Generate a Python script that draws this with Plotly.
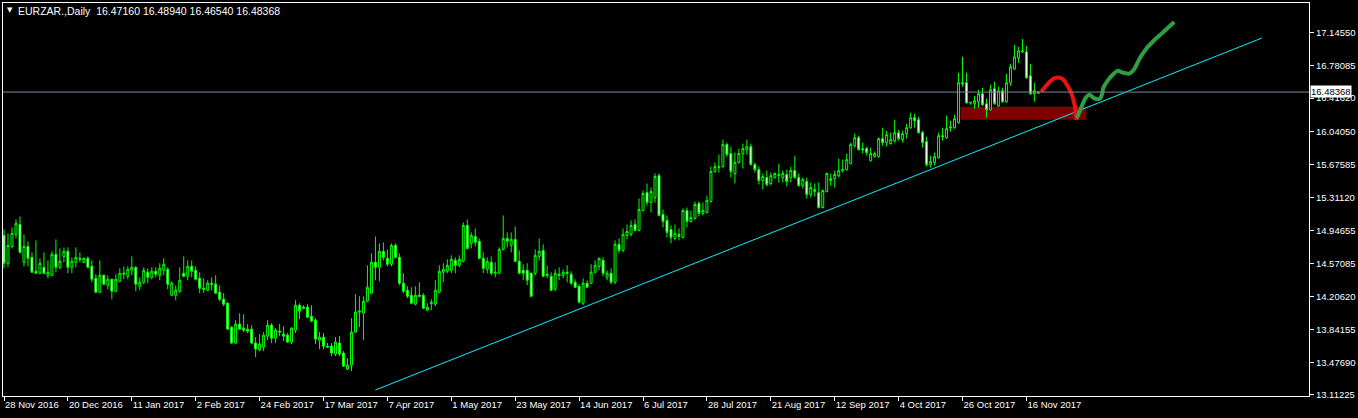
import plotly.graph_objects as go

# ---------------- data ----------------
symbol_title = "EURZAR.,Daily\u00a0\u00a016.47160 16.48940 16.46540 16.48368"

date_labels = ["28 Nov 2016", "20 Dec 2016", "11 Jan 2017", "2 Feb 2017", "24 Feb 2017",
               "17 Mar 2017", "7 Apr 2017", "1 May 2017", "23 May 2017", "14 Jun 2017",
               "6 Jul 2017", "28 Jul 2017", "21 Aug 2017", "12 Sep 2017", "4 Oct 2017",
               "26 Oct 2017", "16 Nov 2017"]
date_label_bars = [0, 16, 32, 48, 64, 80, 96, 112, 128, 144, 160, 176, 192, 208, 224, 240, 256]

price_ticks = [17.14550, 16.78085, 16.41620, 16.04050, 15.67585, 15.31120,
               14.94655, 14.57085, 14.20620, 13.84155, 13.47690, 13.11225]

opens = [14.888, 14.578, 14.766, 14.900, 15.011, 14.589, 14.766, 14.644, 14.489, 14.467,
         14.533, 14.444, 14.444, 14.678, 14.533, 14.655, 14.711, 14.533, 14.589, 14.633,
         14.589, 14.633, 14.544, 14.411, 14.256, 14.444, 14.333, 14.400, 14.267, 14.378,
         14.456, 14.433, 14.500, 14.533, 14.322, 14.367, 14.478, 14.422, 14.489, 14.444,
         14.500, 14.511, 14.222, 14.222, 14.267, 14.467, 14.433, 14.544, 14.500, 14.411,
         14.300, 14.278, 14.356, 14.345, 14.256, 14.178, 14.134, 13.867, 13.690, 13.901,
         13.856, 13.845, 13.845, 13.690, 13.612, 13.645, 13.767, 13.889, 13.745, 13.823,
         13.790, 13.778, 13.701, 13.834, 14.111, 14.089, 14.089, 13.989, 13.945, 13.723,
         13.756, 13.656, 13.656, 13.568, 13.690, 13.579, 13.401, 13.445, 13.812, 14.034,
         14.023, 14.156, 14.245, 14.589, 14.533, 14.711, 14.633, 14.567, 14.777, 14.644,
         14.356, 14.278, 14.222, 14.123, 14.222, 14.222, 14.056, 14.145, 14.123, 14.256,
         14.478, 14.489, 14.500, 14.611, 14.555, 14.600, 14.999, 14.800, 14.877, 14.822,
         14.633, 14.511, 14.589, 14.467, 14.467, 14.733, 14.855, 14.777, 14.844, 14.600,
         14.500, 14.500, 14.467, 14.467, 14.655, 14.722, 14.456, 14.433, 14.289, 14.456,
         14.444, 14.478, 14.456, 14.367, 14.322, 14.134, 14.356, 14.356, 14.478, 14.544,
         14.611, 14.422, 14.467, 14.367, 14.789, 14.722, 14.888, 14.900, 15.011, 14.944,
         15.166, 15.366, 15.255, 15.310, 15.554, 15.122, 15.055, 14.955, 14.855, 14.900,
         14.866, 15.166, 15.044, 15.077, 15.244, 15.133, 15.144, 15.266, 15.599, 15.643,
         15.654, 15.899, 15.799, 15.577, 15.699, 15.799, 15.843, 15.876, 15.677, 15.621,
         15.499, 15.532, 15.466, 15.532, 15.554, 15.532, 15.566, 15.532, 15.610, 15.532,
         15.443, 15.488, 15.344, 15.377, 15.366, 15.199, 15.377, 15.499, 15.521, 15.554,
         15.610, 15.621, 15.688, 15.887, 15.976, 15.854, 15.854, 15.721, 15.765, 15.765,
         15.965, 15.921, 15.910, 15.943, 16.032, 15.954, 16.021, 16.087, 16.198, 16.176,
         16.032, 15.932, 15.677, 15.699, 15.754, 15.998, 15.976, 16.098, 16.087, 16.143,
         16.587, 16.587, 16.365, 16.354, 16.376, 16.465, 16.354, 16.287, 16.520, 16.331,
         16.498, 16.376, 16.587, 16.742, 16.864, 16.931, 16.931, 16.664, 16.465, 16.47160]

highs = [14.955, 14.911, 14.977, 15.066, 15.099, 14.900, 14.822, 14.700, 14.833, 14.633,
         14.700, 14.611, 14.711, 14.844, 14.744, 14.755, 14.755, 14.644, 14.755, 14.700,
         14.644, 14.655, 14.611, 14.456, 14.611, 14.456, 14.444, 14.411, 14.456, 14.522,
         14.544, 14.544, 14.655, 14.544, 14.422, 14.533, 14.522, 14.533, 14.533, 14.578,
         14.633, 14.533, 14.378, 14.333, 14.533, 14.655, 14.611, 14.611, 14.544, 14.478,
         14.411, 14.389, 14.422, 14.444, 14.333, 14.245, 14.145, 13.878, 13.945, 14.023,
         14.012, 13.901, 13.889, 13.756, 13.790, 13.812, 13.945, 13.912, 13.856, 13.901,
         13.878, 13.801, 13.867, 14.167, 14.134, 14.111, 14.123, 14.111, 13.967, 13.812,
         13.801, 13.690, 13.690, 13.756, 13.767, 13.601, 13.523, 13.967, 14.234, 14.211,
         14.211, 14.555, 14.689, 14.877, 14.800, 14.811, 14.733, 14.800, 14.800, 14.689,
         14.467, 14.322, 14.311, 14.322, 14.367, 14.245, 14.134, 14.178, 14.389, 14.555,
         14.578, 14.622, 14.666, 14.644, 14.666, 15.033, 15.066, 14.922, 14.966, 14.855,
         14.700, 14.644, 14.655, 14.589, 14.755, 15.110, 14.922, 14.922, 14.988, 14.722,
         14.567, 14.578, 14.478, 14.733, 14.855, 14.789, 14.555, 14.478, 14.511, 14.533,
         14.511, 14.555, 14.489, 14.400, 14.345, 14.411, 14.389, 14.567, 14.611, 14.644,
         14.644, 14.500, 14.522, 14.833, 14.855, 14.966, 15.011, 15.055, 15.066, 15.299,
         15.388, 15.466, 15.421, 15.577, 15.577, 15.177, 15.110, 14.999, 15.011, 14.966,
         15.188, 15.199, 15.166, 15.266, 15.266, 15.255, 15.332, 15.654, 15.699, 15.788,
         15.954, 15.921, 15.876, 15.810, 15.854, 15.910, 15.954, 15.910, 15.699, 15.654,
         15.577, 15.610, 15.588, 15.588, 15.688, 15.610, 15.621, 15.654, 15.776, 15.577,
         15.532, 15.532, 15.477, 15.466, 15.477, 15.399, 15.588, 15.577, 15.610, 15.743,
         15.732, 15.799, 15.921, 16.021, 15.998, 15.921, 15.876, 15.865, 15.821, 15.976,
         16.087, 16.054, 16.032, 16.176, 16.065, 16.054, 16.132, 16.254, 16.243, 16.209,
         16.054, 15.987, 15.776, 15.810, 16.032, 16.087, 16.220, 16.165, 16.232, 16.698,
         16.875, 16.698, 16.376, 16.442, 16.509, 16.531, 16.409, 16.565, 16.598, 16.542,
         16.531, 16.687, 16.798, 17.009, 16.986, 17.075, 16.997, 16.798, 16.587, 16.48940]

lows = [14.522, 14.533, 14.744, 14.855, 14.689, 14.544, 14.544, 14.478, 14.467, 14.456,
        14.456, 14.411, 14.433, 14.478, 14.511, 14.589, 14.467, 14.467, 14.533, 14.589,
        14.578, 14.522, 14.367, 14.245, 14.245, 14.333, 14.289, 14.178, 14.256, 14.367,
        14.400, 14.400, 14.444, 14.267, 14.278, 14.345, 14.356, 14.400, 14.422, 14.389,
        14.444, 14.289, 14.211, 14.167, 14.245, 14.422, 14.389, 14.422, 14.389, 14.245,
        14.245, 14.267, 14.278, 14.234, 14.156, 14.100, 13.834, 13.679, 13.679, 13.834,
        13.812, 13.801, 13.679, 13.534, 13.601, 13.601, 13.723, 13.690, 13.690, 13.767,
        13.712, 13.690, 13.679, 13.801, 13.956, 14.067, 13.967, 13.923, 13.679, 13.623,
        13.623, 13.634, 13.545, 13.545, 13.545, 13.423, 13.390, 13.379, 13.801, 13.867,
        13.723, 14.145, 14.234, 14.389, 14.378, 14.611, 14.544, 14.544, 14.633, 14.333,
        14.245, 14.189, 14.123, 14.111, 14.200, 14.067, 14.045, 14.056, 14.100, 14.245,
        14.367, 14.467, 14.467, 14.467, 14.533, 14.589, 14.733, 14.744, 14.766, 14.622,
        14.467, 14.467, 14.444, 14.422, 14.456, 14.722, 14.755, 14.700, 14.589, 14.456,
        14.389, 14.333, 14.200, 14.444, 14.611, 14.422, 14.411, 14.267, 14.267, 14.389,
        14.411, 14.367, 14.333, 14.300, 14.134, 14.111, 14.300, 14.345, 14.467, 14.500,
        14.433, 14.389, 14.345, 14.345, 14.689, 14.700, 14.844, 14.877, 14.933, 14.933,
        15.155, 15.221, 15.144, 15.255, 15.099, 14.977, 14.866, 14.800, 14.833, 14.833,
        14.855, 14.977, 15.033, 15.066, 15.099, 15.110, 15.133, 15.255, 15.588, 15.588,
        15.643, 15.765, 15.532, 15.466, 15.688, 15.632, 15.788, 15.665, 15.588, 15.455,
        15.399, 15.432, 15.443, 15.521, 15.477, 15.477, 15.432, 15.477, 15.521, 15.432,
        15.410, 15.299, 15.310, 15.321, 15.188, 15.188, 15.366, 15.443, 15.421, 15.532,
        15.588, 15.610, 15.677, 15.865, 15.832, 15.799, 15.776, 15.710, 15.754, 15.754,
        15.887, 15.876, 15.899, 15.921, 15.943, 15.921, 15.965, 16.076, 16.087, 16.021,
        15.865, 15.654, 15.643, 15.665, 15.743, 15.943, 15.965, 16.043, 16.076, 16.132,
        16.542, 16.354, 16.343, 16.298, 16.309, 16.331, 16.198, 16.276, 16.343, 16.320,
        16.365, 16.365, 16.553, 16.731, 16.809, 16.920, 16.631, 16.454, 16.376, 16.46540]

closes = [14.578, 14.777, 14.911, 15.022, 14.700, 14.766, 14.633, 14.478, 14.467, 14.578,
          14.467, 14.478, 14.678, 14.533, 14.600, 14.711, 14.533, 14.600, 14.644, 14.622,
          14.633, 14.533, 14.400, 14.256, 14.444, 14.345, 14.400, 14.267, 14.400, 14.467,
          14.467, 14.511, 14.533, 14.345, 14.367, 14.500, 14.422, 14.489, 14.456, 14.522,
          14.567, 14.345, 14.356, 14.278, 14.389, 14.433, 14.544, 14.489, 14.400, 14.300,
          14.289, 14.356, 14.345, 14.245, 14.178, 14.123, 13.845, 13.690, 13.901, 13.845,
          13.834, 13.823, 13.690, 13.623, 13.679, 13.778, 13.889, 13.745, 13.834, 13.812,
          13.767, 13.701, 13.856, 14.111, 14.045, 14.078, 13.978, 13.934, 13.734, 13.756,
          13.656, 13.645, 13.579, 13.701, 13.568, 13.434, 13.445, 13.812, 14.034, 14.045,
          14.156, 14.311, 14.589, 14.533, 14.711, 14.644, 14.567, 14.777, 14.644, 14.356,
          14.267, 14.211, 14.134, 14.222, 14.211, 14.078, 14.089, 14.134, 14.278, 14.489,
          14.511, 14.555, 14.622, 14.555, 14.622, 14.999, 14.744, 14.888, 14.811, 14.633,
          14.522, 14.600, 14.467, 14.478, 14.733, 14.855, 14.822, 14.844, 14.600, 14.467,
          14.467, 14.389, 14.211, 14.666, 14.711, 14.433, 14.444, 14.278, 14.467, 14.444,
          14.478, 14.467, 14.356, 14.311, 14.145, 14.356, 14.311, 14.478, 14.555, 14.633,
          14.467, 14.467, 14.367, 14.789, 14.722, 14.900, 14.933, 14.999, 14.944, 15.177,
          15.355, 15.255, 15.377, 15.543, 15.110, 15.044, 14.922, 14.866, 14.911, 14.877,
          15.166, 15.044, 15.088, 15.233, 15.133, 15.166, 15.277, 15.599, 15.654, 15.654,
          15.899, 15.788, 15.599, 15.699, 15.799, 15.854, 15.876, 15.677, 15.621, 15.499,
          15.543, 15.455, 15.554, 15.577, 15.566, 15.577, 15.488, 15.610, 15.532, 15.443,
          15.510, 15.344, 15.421, 15.399, 15.199, 15.388, 15.577, 15.521, 15.566, 15.610,
          15.621, 15.732, 15.899, 15.976, 15.843, 15.843, 15.810, 15.799, 15.799, 15.965,
          15.921, 16.010, 15.954, 16.032, 15.965, 16.021, 16.087, 16.198, 16.165, 16.032,
          15.921, 15.677, 15.710, 15.765, 15.998, 15.987, 16.076, 16.087, 16.187, 16.587,
          16.576, 16.365, 16.365, 16.387, 16.465, 16.343, 16.287, 16.509, 16.354, 16.498,
          16.376, 16.587, 16.764, 16.875, 16.942, 16.942, 16.642, 16.465, 16.498, 16.48368]

bid_price = 16.48368

# trend line (bar index, price)
trend_x = [93, 315]
trend_y = [13.168, 17.086]

# support zone (bar index range, price range)
zone_x = [239.5, 271.0]
zone_y = [16.176, 16.320]

# hand-drawn scenario strokes (bar index, price)
red_x = [259.7, 261.3, 262.6, 263.8, 265.1, 266.3, 267.2, 267.6, 268.2, 268.4, 268.6]
red_y = [16.487, 16.572, 16.628, 16.646, 16.628, 16.553, 16.479, 16.424, 16.313, 16.240, 16.173]

green_x = [268.6, 269.25, 269.9, 270.9, 271.75, 273.0, 274.25, 274.8, 275.3, 276.3,
           277.6, 278.8, 280.1, 281.75, 283.0, 284.25, 285.9, 288.0, 290.1, 293.0]
green_y = [16.195, 16.257, 16.331, 16.424, 16.454, 16.413, 16.406, 16.442, 16.535, 16.609,
           16.676, 16.720, 16.701, 16.690, 16.739, 16.850, 16.961, 17.061, 17.145, 17.264]

# ---------------- figure ----------------
bars = list(range(len(opens)))
FONT = "Liberation Sans, Arial, sans-serif"

fig = go.Figure()

fig.add_trace(go.Candlestick(
    x=bars, open=opens, high=highs, low=lows, close=closes,
    increasing=dict(line=dict(color="#00FF00", width=1), fillcolor="#000000"),
    decreasing=dict(line=dict(color="#00FF00", width=1), fillcolor="#FFFFFF"),
    whiskerwidth=0, hoverinfo="none", showlegend=False))

fig.add_trace(go.Scatter(x=trend_x, y=trend_y, mode="lines",
                         line=dict(color="#00F0FF", width=1),
                         hoverinfo="skip", showlegend=False))

fig.add_trace(go.Scatter(x=red_x, y=red_y, mode="lines",
                         line=dict(color="#EE1111", width=4, shape="spline"),
                         hoverinfo="skip", showlegend=False))

fig.add_trace(go.Scatter(x=green_x, y=green_y, mode="lines",
                         line=dict(color="#2EA043", width=4, shape="spline"),
                         hoverinfo="skip", showlegend=False))

fig.add_shape(type="rect", xref="x", yref="y",
              x0=zone_x[0], x1=zone_x[1], y0=zone_y[0], y1=zone_y[1],
              fillcolor="#800000", line=dict(width=0), layer="below")

fig.add_shape(type="line", xref="paper", yref="y", x0=0, x1=1,
              y0=bid_price, y1=bid_price,
              line=dict(color="#778899", width=1), layer="above")

fig.add_annotation(xref="paper", yref="y", x=1, y=bid_price, xanchor="left",
                   yanchor="middle", xshift=1, yshift=1, text=f"{bid_price:.5f}", showarrow=False,
                   bgcolor="#FFFFFF", font=dict(family=FONT, size=9.5, color="#000000"),
                   borderpad=0)

fig.add_annotation(xref="paper", yref="paper", x=0, y=1, xanchor="left", yanchor="top",
                   xshift=2, yshift=-1, text="\u25BC", showarrow=False,
                   font=dict(family="DejaVu Sans", size=7, color="#FFFFFF"))

fig.add_annotation(xref="paper", yref="paper", x=0, y=1, xanchor="left", yanchor="top",
                   xshift=13, yshift=0, text=symbol_title, showarrow=False,
                   font=dict(family=FONT, size=10.5, color="#FFFFFF"))

fig.update_layout(
    width=1358, height=418,
    margin=dict(l=2, r=48, t=2, b=22),
    paper_bgcolor="#000000", plot_bgcolor="#000000",
    showlegend=False, hovermode=False,
    font=dict(family=FONT, size=9.5, color="#FFFFFF"),
    xaxis=dict(range=[-0.25, 326.75], rangeslider=dict(visible=False),
               showgrid=False, zeroline=False, fixedrange=True,
               showline=True, mirror=True, linecolor="#FFFFFF", linewidth=1,
               ticks="outside", ticklen=4, tickcolor="#FFFFFF", tickwidth=1,
               tickvals=date_label_bars, ticktext=date_labels,
               ticklabelposition="outside right",
               tickfont=dict(family=FONT, size=9.5, color="#FFFFFF")),
    yaxis=dict(range=[13.101, 17.475], side="right",
               showgrid=False, zeroline=False, fixedrange=True,
               showline=True, mirror=True, linecolor="#FFFFFF", linewidth=1,
               ticks="outside", ticklen=4, tickcolor="#FFFFFF", tickwidth=1,
               tickvals=price_ticks, ticktext=[f"{v:.5f}" for v in price_ticks],
               tickfont=dict(family=FONT, size=9.5, color="#FFFFFF")),
)

fig.write_html("out.html", config={"displayModeBar": False, "staticPlot": True},
               post_script="document.body.style.margin='0';document.body.style.overflow='hidden';")
